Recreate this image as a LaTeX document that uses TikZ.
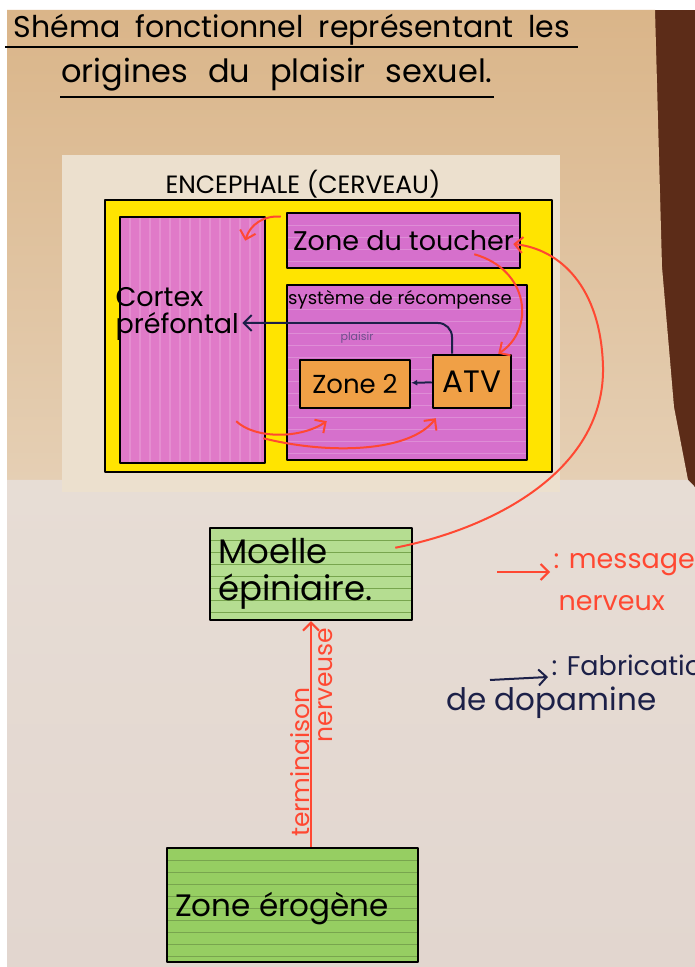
\documentclass[tikz,border=0pt]{standalone}
\usepackage{fontspec}
\setmainfont{Poppins}
\usepackage{tikz}
\usetikzlibrary{arrows.meta}

\definecolor{paperTop}{RGB}{218,181,137}
\definecolor{paperMid}{RGB}{229,207,180}
\definecolor{paperLow}{RGB}{231,221,213}
\definecolor{paperBot}{RGB}{226,214,207}
\definecolor{sheet}{RGB}{236,224,206}
\definecolor{tabletop}{RGB}{92,44,24}
\definecolor{brainyellow}{RGB}{255,228,0}
\definecolor{zonepink}{RGB}{214,112,204}
\definecolor{cortexpink}{RGB}{224,122,200}
\definecolor{zoneorange}{RGB}{240,160,70}
\definecolor{cardgreen}{RGB}{150,206,98}
\definecolor{redink}{RGB}{255,72,50}
\definecolor{navyink}{RGB}{28,32,72}
\definecolor{plumink}{RGB}{110,80,140}

\newcommand{\hand}[2]{\fontsize{#1}{#2}\selectfont}

\begin{document}
\begin{tikzpicture}[>={Straight Barb[length=8bp,width=16bp]},line join=round,
  box/.style={draw=black,line width=2.5bp,inner sep=0pt},
  ruled/.style={path picture={
      \foreach \k in {1,...,14}
        \draw[#1,line width=0.5bp] ([yshift=-\k*12bp]path picture bounding box.north west) -- ([yshift=-\k*12bp]path picture bounding box.north east);}},
  striped/.style={path picture={
      \foreach \k in {1,...,14}
        \draw[#1,line width=1.5bp] ([xshift=\k*10bp]path picture bounding box.north west) -- ([xshift=\k*10bp]path picture bounding box.south west);}},
  brain/.style={box,fill=brainyellow},
  area/.style={box,fill=zonepink,ruled=zonepink!80!white,font=\hand{27bp}{29bp}},
  nucleus/.style={box,fill=zoneorange,font=\hand{26bp}{28bp}},
  card/.style={box,fill=cardgreen,ruled=cardgreen!80!black},
  nerve/.style={draw=redink,line width=2bp,->},
  dopa/.style={draw=navyink,line width=2bp,->},
  ]
%% paper and table
\fill[white] (0bp,0bp) rectangle (695bp,967bp);
\fill[tabletop] (640bp,0bp) rectangle (695bp,957bp);
\shade[top color=paperTop,bottom color=paperMid] (7bp,957bp) -- (655bp,957bp) -- (662bp,700bp) -- (674bp,560bp) -- (688bp,487bp) -- (7bp,487bp) -- cycle;
\shade[top color=paperLow,bottom color=paperBot] (7bp,487bp) -- (688bp,487bp) -- (695bp,480bp) -- (695bp,0bp) -- (7bp,0bp) -- cycle;
\fill[sheet] (62bp,475bp) rectangle (560bp,812bp);
\useasboundingbox (0bp,0bp) rectangle (695bp,967bp);

%% title
\node (title_l1) at (292bp,937bp) [font={\hand{30bp}{32bp}\spaceskip=15bp\relax}] {Shéma fonctionnel représentant les};
\node (title_l2) at (277bp,892bp) [font={\hand{32bp}{34bp}\spaceskip=20bp\relax}] {origines du plaisir sexuel.};
\draw [line width=2bp] (5bp,920bp) -- (578bp,920bp);
\draw [line width=2bp] (60bp,870bp) -- (494bp,870bp);

%% encephale
\node (encephale) at (328.5bp,631bp) [brain,minimum width=447bp,minimum height=272bp] {};
\node (encephale_title) at (303bp,783bp) [font=\hand{25bp}{27bp}] {ENCEPHALE (CERVEAU)};
\node (cortex) at (192.5bp,627bp) [box,fill=cortexpink,striped=cortexpink!85!white,minimum width=145bp,minimum height=246bp] {};
\node (cortex_label) at (112bp,653bp) [anchor=west,align=left,font=\hand{27bp}{27bp}] {Cortex\\préfontal};
\node (toucher) at (403.5bp,726.5bp) [area,minimum width=233bp,minimum height=55bp] {Zone du toucher};
\node (recompense) at (407bp,594.5bp) [area,minimum width=240bp,minimum height=175bp] {};
\node (recompense_label) at (400bp,667bp) [font=\hand{18bp}{20bp}] {système de récompense};
\node (plaisir) at (357bp,629bp) [text=plumink,font=\fontsize{11bp}{12bp}\selectfont] {plaisir};
\node (zone2) at (355bp,583bp) [nucleus,minimum width=110bp,minimum height=48bp] {Zone 2};
\node (atv) at (472bp,585.5bp) [nucleus,minimum width=78bp,minimum height=53bp,font=\hand{31bp}{33bp}] {ATV};

%% moelle et zone erogene
\node (moelle) at (311bp,393bp) [card,fill=cardgreen!70!white,minimum width=202bp,minimum height=92bp,text width=186bp,align=left,font=\hand{34bp}{37bp}] {Moelle\\épiniaire.};
\node (erogene) at (292.5bp,62bp) [card,minimum width=251bp,minimum height=114bp] {};
\node (erogene_label) at (282bp,58bp) [font=\hand{31bp}{33bp}] {Zone érogène};

%% dopamine
\draw [dopa,rounded corners=14bp] ([xshift=-20bp]atv.north) |- ([yshift=-9bp]cortex_label.east);
\draw [dopa,-{Latex[length=6bp,width=6bp]}] (atv) -- (zone2);

%% messages nerveux
\draw [nerve] ([xshift=-5bp,yshift=-5bp]toucher.north west) to[bend right=40] ([xshift=-21bp,yshift=-25bp]cortex.north east);
\draw [nerve] ([xshift=-18bp,yshift=-21bp]moelle.north east) .. controls (500bp,440bp) and (605bp,500bp) .. (603bp,600bp) .. controls (601bp,680bp) and (560bp,718bp) .. ([xshift=-8bp,yshift=-3.5bp]toucher.east);
\draw [nerve] ([xshift=-47bp,yshift=15bp]toucher.south east) .. controls (530bp,697bp) and (535bp,637bp) .. ([xshift=-14bp]atv.north east);
\draw [nerve] ([xshift=-30bp,yshift=43bp]cortex.south east) .. controls (255bp,528bp) and (300bp,528bp) .. ([xshift=28bp,yshift=-12bp]zone2.south west);
\draw [nerve] ([xshift=-3bp,yshift=26bp]cortex.south east) .. controls (330bp,512bp) and (410bp,515bp) .. ([xshift=4bp,yshift=-9bp]atv.south west);
\draw [nerve] (moelle.south |- erogene.north) -- (moelle.south);
\node (terminaison) at (300bp,205bp) [rotate=90,text=redink,font=\fontsize{25bp}{27bp}\selectfont] {terminaison};
\node (nerveuse) at (326bp,282bp) [rotate=90,text=redink,font=\fontsize{25bp}{27bp}\selectfont] {nerveuse};

%% legende
\coordinate (legend_msg) at (497bp,395bp);
\node (legend_msg_txt) at (550bp,402bp) [anchor=west,text=redink,font=\hand{27bp}{29bp}] {: message};
\node (legend_msg_txt2) at (555bp,364bp) [anchor=west,text=redink,font=\hand{27bp}{29bp}] {nerveux};
\draw [nerve] (legend_msg) -- ([yshift=-7bp]legend_msg_txt.west);
\coordinate (legend_dopa) at (490bp,287bp);
\node (legend_dopa_txt) at (548bp,302bp) [anchor=west,text=navyink,font=\hand{27bp}{29bp}] {: Fabrication};
\node (legend_dopa_txt2) at (443bp,264bp) [anchor=west,text=navyink,font=\hand{31bp}{33bp}] {de dopamine};
\draw [dopa] (legend_dopa) -- ([yshift=-12bp]legend_dopa_txt.west);
%
\end{tikzpicture}
\end{document}
